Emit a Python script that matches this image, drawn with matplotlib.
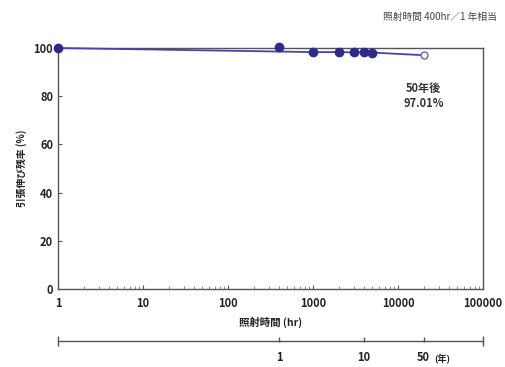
import matplotlib
matplotlib.use("Agg")
import matplotlib.pyplot as plt

plt.rcParams['font.family'] = ['Noto Sans CJK JP', 'DejaVu Sans']

# Data
hours_pts = [1, 400, 1000, 2000, 3000, 4000, 5000]
retention_pts = [100, 100.6, 98.3, 98.3, 98.2, 98.2, 98.1]
line_hours = [1, 1000, 2000, 3000, 4000, 5000, 20000]
line_vals = [100, 98.3, 98.3, 98.2, 98.2, 98.1, 97.01]
pred_hours = [20000]
pred_vals = [97.01]
x_ticks = [1, 10, 100, 1000, 10000, 100000]
x_ticklabels = ['1', '10', '100', '1000', '10000', '100000']
y_ticks = [0, 20, 40, 60, 80, 100]
year_ticks_hr = [400, 4000, 20000]
year_labels = ['1', '10', '50']

W, H = 505, 367
fig = plt.figure(figsize=(W / 100, H / 100), dpi=100)
fig.patch.set_facecolor('white')

L, R, T, B = 58, 483, 48, 289
ax = fig.add_axes([L / W, 1 - B / H, (R - L) / W, (B - T) / H])
ax.set_xscale('log')
ax.set_xlim(1, 100000)
ax.set_ylim(0, 100)

navy = '#2e2a8c'
ax.plot(line_hours, line_vals, color='#4a40b0', lw=1.3, zorder=3, clip_on=False)
ax.plot(hours_pts, retention_pts, 'o', color=navy, ms=6, zorder=4, clip_on=False)
ax.plot(pred_hours, pred_vals, 'o', mfc='white', mec='#6a60c0', ms=5, mew=1, zorder=4, clip_on=False)

for s in ax.spines.values():
    s.set_color('#555555')
    s.set_linewidth(1.0)

ax.set_xticks(x_ticks)
ax.set_xticklabels(x_ticklabels)
ax.set_yticks(y_ticks)
ax.tick_params(axis='both', which='major', direction='in', length=3, color='#555555',
               labelsize=8, labelcolor='#222222')
ax.tick_params(axis='x', which='minor', direction='in', length=2, color='#777777')
ax.tick_params(axis='x', which='major', pad=6)
for lab in ax.get_xticklabels() + ax.get_yticklabels():
    lab.set_fontweight('bold')

ax.set_xlabel('照射時間 (hr)', fontsize=7.5, fontweight='bold', color='#222222', labelpad=5)
ax.set_ylabel('引張伸び残率 (%)', fontsize=7, fontweight='bold', color='#222222', labelpad=5)

ax.text(20000, 86, '50年後\n97.01%', ha='center', va='top', fontsize=8,
        fontweight='bold', color='#333333', linespacing=1.2)

fig.text(497 / W, 1 - 17 / H, '照射時間 400hr／1 年相当', ha='right', va='center',
         fontsize=7, color='#444444')

# Year axis
yl = 341
ax3 = fig.add_axes([L / W, 1 - (yl + 6) / H, (R - L) / W, 12 / H])
ax3.set_xscale('log')
ax3.set_xlim(1, 100000)
ax3.set_ylim(-1, 1)
ax3.axis('off')
ax3.plot([1, 100000], [0, 0], color='#555555', lw=1.0, clip_on=False)
ax3.vlines([1, 100000], -0.9, 0.9, color='#555555', lw=1.0, clip_on=False)
ax3.vlines(year_ticks_hr, -0.2, 0.6, color='#555555', lw=1.0, clip_on=False)
for h, lab in zip(year_ticks_hr, year_labels):
    ax3.text(h, -1.6, lab, ha='center', va='top', fontsize=8, fontweight='bold', color='#222222')
ax3.annotate('(年)', xy=(year_ticks_hr[-1], -1.6), xytext=(8, -2), textcoords='offset points',
             ha='left', va='top', fontsize=6.5, fontweight='bold', color='#222222',
             annotation_clip=False)

fig.savefig('out.png', dpi=100, facecolor='white')
